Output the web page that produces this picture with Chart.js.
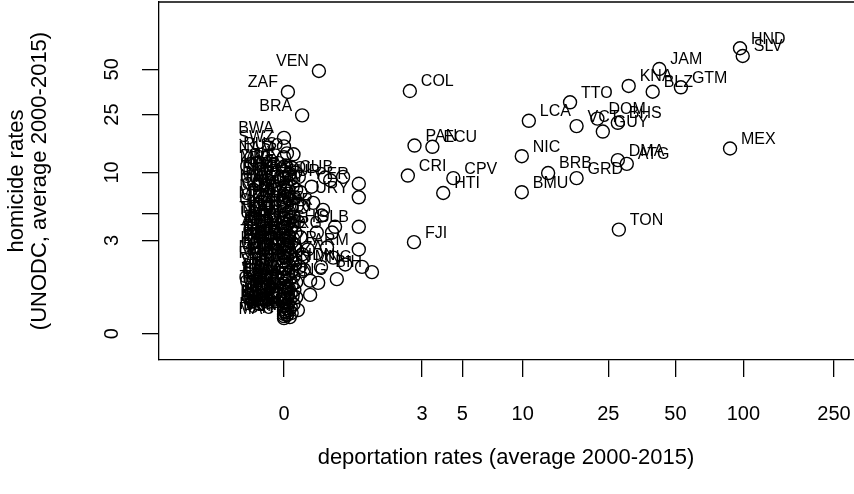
<!DOCTYPE html>
<html>
<head>
<meta charset="utf-8">
<script src="https://cdn.jsdelivr.net/npm/chart.js@4.4.1/dist/chart.umd.min.js"></script>
<style>
  html, body { margin: 0; padding: 0; background: #fff; }
  #wrap { width: 854px; height: 494px; }
</style>
</head>
<body>
<div id="wrap"><canvas id="scatter" width="854" height="494"></canvas></div>
<script>
// country codes, deportation rates and homicide rates (both averages 2000-2015)
const countries = [
    'HND', 'SLV', 'JAM', 'GTM', 'KNA', 'BLZ', 'TTO', 'DOM', 'BHS', 'VCT', 'GUY', 'LCA',
    'MEX', 'DMA', 'ATG', 'GRD', 'BRB', 'NIC', 'BMU', 'TON', 'COL', 'PAN', 'ECU', 'CRI',
    'CPV', 'HTI', 'FJI', 'VEN', 'ZAF', 'BRA', 'BWA',
    'PER', 'URY', 'CUB', 'BOL', 'SUR', 'GIN', 'SLE', 'LBR', 'ERI', 'CHL', 'ARG', 'PSE',
    'SLB', 'SYR', 'EGY', 'MYS', 'DZA', 'ARM', 'TUN', 'IDN', 'MNG', 'BIH', 'PNG', 'MUS',
    'TLS', 'SYC', 'WSM', 'VUT',
    'SWZ', 'RUS', 'LSO', 'NAM', 'MRT', 'ZWE', 'PRY', 'KAZ', 'COD', 'GMB', 'CAF', 'UGA',
    'GNB', 'ETH', 'TZA', 'PAK', 'MDG', 'GAB', 'MWI', 'AGO', 'TCD', 'KGZ', 'COG', 'NGA',
    'DJI', 'CIV', 'PHL', 'BDI', 'MDA', 'CMR', 'ZMB', 'KEN', 'SDN', 'GHA', 'BEN', 'IND',
    'MOZ', 'TGO', 'LAO', 'NER', 'SEN', 'MMR', 'UKR', 'LTU', 'KHM', 'BFA', 'AFG', 'MLI',
    'NPL', 'THA', 'LVA', 'STP', 'IRQ', 'GEO', 'RWA', 'EST', 'GNQ', 'TKM', 'YEM', 'AZE',
    'BLR', 'BGD', 'KWT', 'MNE', 'TUR', 'IRN', 'BTN', 'LKA', 'UZB', 'MAR', 'ALB', 'MKD',
    'MDV', 'ROU', 'BGR', 'LBY', 'TJK', 'VNM', 'SRB', 'CAN', 'ISR', 'FIN', 'HUN', 'BEL',
    'POL', 'SAU', 'SVK', 'LBN', 'JOR', 'FRA', 'GBR', 'PRT', 'TWN', 'GRC', 'SWE', 'CZE',
    'CHN', 'ITA', 'NLD', 'DEU', 'IRL', 'DNK', 'ESP', 'AUS', 'NZL', 'KOR', 'HRV', 'BHR',
    'CHE', 'AUT', 'NOR', 'SVN', 'OMN', 'ARE', 'QAT', 'LUX', 'ISL', 'JPN', 'SGP', 'HKG',
    'BRN', 'MLT', 'CYP', 'MAC'
];

const deportRates = [
    96.6, 99.3, 42.4, 52.9, 30.9, 39.6, 16.7, 22.3, 27.6, 17.9, 23.6, 10.7,
    87.3, 27.6, 30.3, 17.9, 13.2, 9.9, 9.9, 27.9, 2.54, 2.71, 3.44, 2.47,
    4.48, 3.95, 2.69, 0.42, 0.04, 0.20, 0.00,
    1.12, 1.12, 0.81, 0.51, 0.59, 0.32, 0.34, 0.48, 0.46, 0.67, 0.62, 0.39,
    1.12, 0.54, 0.27, 0.21, 0.64, 1.12, 0.45, 0.85, 1.19, 1.42, 0.70, 0.30,
    0.41, 0.30, 0.15, 0.03,
    0.00, 0.03, 0.10, 0.00, 0.00, 0.02, 0.08, 0.00, 0.12, 0.06, 0.05, 0.16,
    0.00, 0.00, 0.07, 0.02, 0.03, 0.00, 0.09, 0.13, 0.02, 0.18, 0.04, 0.00,
    0.02, 0.11, 0.06, 0.00, 0.00, 0.03, 0.14, 0.08, 0.20, 0.00, 0.05, 0.02,
    0.10, 0.00, 0.07, 0.00, 0.06, 0.15, 0.00, 0.04, 0.09, 0.00, 0.01, 0.07,
    0.02, 0.12, 0.00, 0.00, 0.05, 0.18, 0.05, 0.03, 0.05, 0.00, 0.08, 0.00,
    0.11, 0.04, 0.02, 0.05, 0.14, 0.00, 0.00, 0.06, 0.20, 0.00, 0.03, 0.09,
    0.12, 0.00, 0.12, 0.05, 0.17, 0.02, 0.00, 0.22, 0.08, 0.00, 0.04, 0.10,
    0.00, 0.00, 0.06, 0.02, 0.13, 0.00, 0.08, 0.03, 0.02, 0.00, 0.05, 0.11,
    0.00, 0.02, 0.07, 0.04, 0.00, 0.09, 0.13, 0.03, 0.00, 0.06, 0.01, 0.00,
    0.04, 0.10, 0.02, 0.00, 0.07, 0.03, 0.00, 0.05, 0.00, 0.02, 0.08, 0.00,
    0.03, 0.00, 0.06, 0.00
];

const homicideRates = [
    68.7, 61.1, 50.2, 38.0, 38.8, 35.5, 30.2, 23.5, 22.0, 20.9, 19.2, 22.7,
    14.7, 12.2, 11.5, 9.1, 9.9, 13.0, 7.2, 3.7, 35.9, 15.4, 15.1, 9.5,
    9.1, 7.1, 2.9, 48.7, 35.4, 24.7, 17.4,
    8.3, 6.6, 9.3, 9.2, 8.8, 7.9, 6.0, 5.3, 4.8, 3.9, 3.5, 3.5,
    3.9, 2.6, 2.5, 2.1, 2.1, 2.5, 1.7, 1.8, 1.7, 1.5, 1.25, 1.2,
    1.13, 0.78, 0.42, 0.33,
    15.2, 13.6, 13.4, 12.8, 11.0, 11.2, 10.8, 10.2, 10.0, 9.8, 9.6, 9.3,
    9.3, 9.0, 8.9, 8.2, 8.0, 7.8, 7.9, 7.5, 7.4, 7.2, 7.0, 6.8,
    6.7, 6.6, 6.3, 6.2, 6.0, 5.8, 5.7, 5.5, 5.6, 5.3, 5.1, 4.9,
    4.7, 4.6, 4.6, 4.5, 4.4, 4.3, 4.2, 4.1, 4.0, 3.9, 3.8, 3.7,
    3.6, 3.5, 3.4, 3.3, 3.3, 3.2, 3.2, 3.1, 3.0, 3.0, 2.9, 2.8,
    2.75, 2.7, 2.6, 2.5, 2.45, 2.35, 2.3, 2.3, 2.25, 2.15, 2.05, 2.0,
    2.0, 1.9, 1.85, 1.78, 1.7, 1.65, 1.6, 1.6, 1.55, 1.45, 1.4, 1.35,
    1.3, 1.3, 1.25, 1.2, 1.15, 1.1, 1.05, 1.0, 1.0, 0.98, 0.95, 0.92,
    0.88, 0.85, 0.82, 0.8, 0.78, 0.75, 0.72, 0.7, 0.68, 0.65, 0.63, 0.6,
    0.57, 0.55, 0.52, 0.5, 0.48, 0.46, 0.44, 0.42, 0.4, 0.38, 0.36, 0.34,
    0.32, 0.3, 0.28, 0.26
];

const xTickValues = [0, 3, 5, 10, 25, 50, 100, 250];
const yTickValues = [0, 3, 5, 10, 25, 50];
const yTickLabels = ['0', '3', '', '10', '25', '50'];

const xTitle = 'deportation rates (average 2000-2015)';
const yTitle = ['homicide rates', '(UNODC, average 2000-2015)'];

const fontFamily = '"Liberation Sans", Arial, Helvetica, sans-serif';

// labels left of the point for low deportation, right of it otherwise
const pointLabels = {
    id: 'pointLabels',
    afterDatasetsDraw(chart) {
        const ctx = chart.ctx;
        const meta = chart.getDatasetMeta(0);
        ctx.save();
        ctx.font = '16px ' + fontFamily;
        ctx.fillStyle = '#000';
        ctx.textBaseline = 'middle';
        meta.data.forEach((pt, i) => {
            if (deportRates[i] < 2) {
                ctx.textAlign = 'right';
                ctx.fillText(countries[i], pt.x - 10, pt.y - 9);
            } else {
                ctx.textAlign = 'left';
                ctx.fillText(countries[i], pt.x + 11, pt.y - 9);
            }
        });
        ctx.restore();
    }
};

const axisText = {
    id: 'axisText',
    afterDraw(chart) {
        const ctx = chart.ctx;
        const xScale = chart.scales.x;
        const yScale = chart.scales.y;
        const area = chart.chartArea;
        ctx.save();
        ctx.strokeStyle = '#000';
        ctx.lineWidth = 1.3;
        ctx.beginPath();
        ctx.moveTo(area.left, area.top);
        ctx.lineTo(area.right, area.top);
        ctx.stroke();

        ctx.fillStyle = '#000';
        ctx.font = '20px ' + fontFamily;
        ctx.textAlign = 'center';
        ctx.textBaseline = 'middle';
        xTickValues.forEach(v => {
            ctx.fillText(String(v), xScale.getPixelForValue(Math.log1p(v)), 414);
        });
        yTickValues.forEach((v, i) => {
            if (!yTickLabels[i]) return;
            ctx.save();
            ctx.translate(112, yScale.getPixelForValue(Math.log1p(v)));
            ctx.rotate(-Math.PI / 2);
            ctx.fillText(yTickLabels[i], 0, 0);
            ctx.restore();
        });

        ctx.font = '22px ' + fontFamily;
        ctx.fillText(xTitle, 506, 458);
        const midY = (area.top + area.bottom) / 2;
        [17, 40].forEach((x, i) => {
            ctx.save();
            ctx.translate(x, midY);
            ctx.rotate(-Math.PI / 2);
            ctx.fillText(yTitle[i], 0, 0);
            ctx.restore();
        });
        ctx.restore();
    }
};

const axisStyle = {
    ticks: { display: false },
    grid: { drawOnChartArea: false, drawTicks: true, tickLength: 17, color: '#000', lineWidth: 1.3 },
    border: { display: true, color: '#000', width: 1.3 }
};

new Chart(document.getElementById('scatter'), {
    type: 'scatter',
    data: {
        datasets: [{
            data: countries.map((c, i) => ({ x: Math.log1p(deportRates[i]), y: Math.log1p(homicideRates[i]) })),
            pointRadius: 6.5,
            pointHoverRadius: 6.5,
            borderWidth: 1.4,
            borderColor: '#000',
            backgroundColor: 'rgba(0,0,0,0)'
        }]
    },
    options: {
        responsive: false,
        devicePixelRatio: 1,
        animation: false,
        events: [],
        layout: { autoPadding: false, padding: { top: 2, right: 0, bottom: 0, left: 0 } },
        plugins: { legend: { display: false }, tooltip: { enabled: false } },
        scales: {
            x: {
                ...axisStyle,
                type: 'linear',
                min: -1.2557,
                max: 5.726,
                afterBuildTicks: s => { s.ticks = xTickValues.map(v => ({ value: Math.log1p(v) })); },
                afterFit: s => { s.height = 134; }
            },
            y: {
                ...axisStyle,
                type: 'linear',
                min: -0.391,
                max: 4.932,
                afterBuildTicks: s => { s.ticks = yTickValues.map(v => ({ value: Math.log1p(v) })); },
                afterFit: s => { s.width = 159; }
            }
        }
    },
    plugins: [pointLabels, axisText]
});
</script>
</body>
</html>
